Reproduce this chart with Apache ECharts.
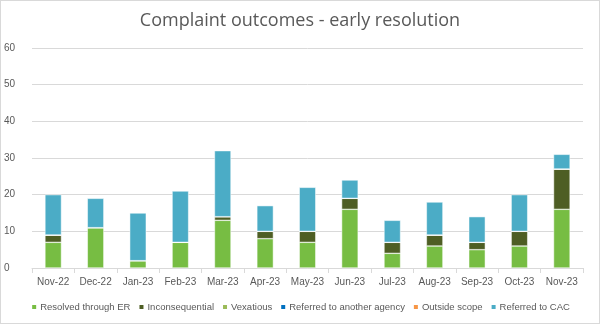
<!DOCTYPE html>
<html><head><meta charset="utf-8">
<script src="https://cdn.jsdelivr.net/npm/echarts@6/dist/echarts.min.js"></script>
<style>html,body{margin:0;padding:0;background:#fff}#c{width:598px;height:322px;border:1px solid #d9d9d9}</style>
</head><body><div id="c"></div>
<script>
const categories=['Nov-22','Dec-22','Jan-23','Feb-23','Mar-23','Apr-23','May-23','Jun-23','Jul-23','Aug-23','Sep-23','Oct-23','Nov-23'];
const resolvedER=[7,11,2,7,13,8,7,16,4,6,5,6,16];
const inconsequential=[2,0,0,0,1,2,3,3,3,3,2,4,11];
const vexatious=[0,0,0,0,0,0,0,0,0,0,0,0,0];
const referredAgency=[0,0,0,0,0,0,0,0,0,0,0,0,0];
const outsideScope=[0,0,0,0,0,0,0,0,0,0,0,0,0];
const referredCAC=[11,8,13,14,18,7,12,5,6,9,7,10,4];
const yTicks=[0,10,20,30,40,50,60];

const names=['Resolved through ER','Inconsequential','Vexatious','Referred to another agency','Outside scope','Referred to CAC'];
const colors=['#77BD43','#4E5E24','#9BBB59','#0070C0','#F79646','#4BACC6'];
const datas=[resolvedER,inconsequential,vexatious,referredAgency,outsideScope,referredCAC];
const F='Liberation Sans';
const chart=echarts.init(document.getElementById('c'));
chart.setOption({
  animation:false,
  title:{text:'Complaint outcomes - early resolution',left:'center',top:6,textStyle:{fontFamily:'Open Sans',fontSize:18,fontWeight:'normal',color:'#595959'}},
  legend:{bottom:6,left:'center',width:1000,itemWidth:6,itemHeight:6,itemGap:7,icon:'rect',textStyle:{fontFamily:F,fontSize:9.5,color:'#595959',padding:[0,0,0,-2]},data:names},
  grid:{left:23,right:16,top:47,bottom:55},
  xAxis:{type:'category',data:categories,axisLine:{lineStyle:{color:'#d9d9d9'}},axisTick:{show:true,alignWithLabel:false,lineStyle:{color:'#d9d9d9'},length:5},axisLabel:{fontFamily:F,fontSize:10,color:'#595959',margin:9,interval:0}},
  yAxis:{type:'value',min:yTicks[0],max:yTicks[yTicks.length-1],interval:10,axisLine:{show:false},axisTick:{show:false},splitLine:{lineStyle:{color:'#d9d9d9'}},axisLabel:{fontFamily:F,fontSize:10,color:'#595959',margin:10,align:'left',padding:[0,0,0,-18]}},
  series:names.map((n,i)=>({name:n,type:'bar',stack:'a',data:datas[i],barWidth:'39%',itemStyle:{color:colors[i],borderColor:'#fff',borderWidth:0.5}}))
});
</script></body></html>
